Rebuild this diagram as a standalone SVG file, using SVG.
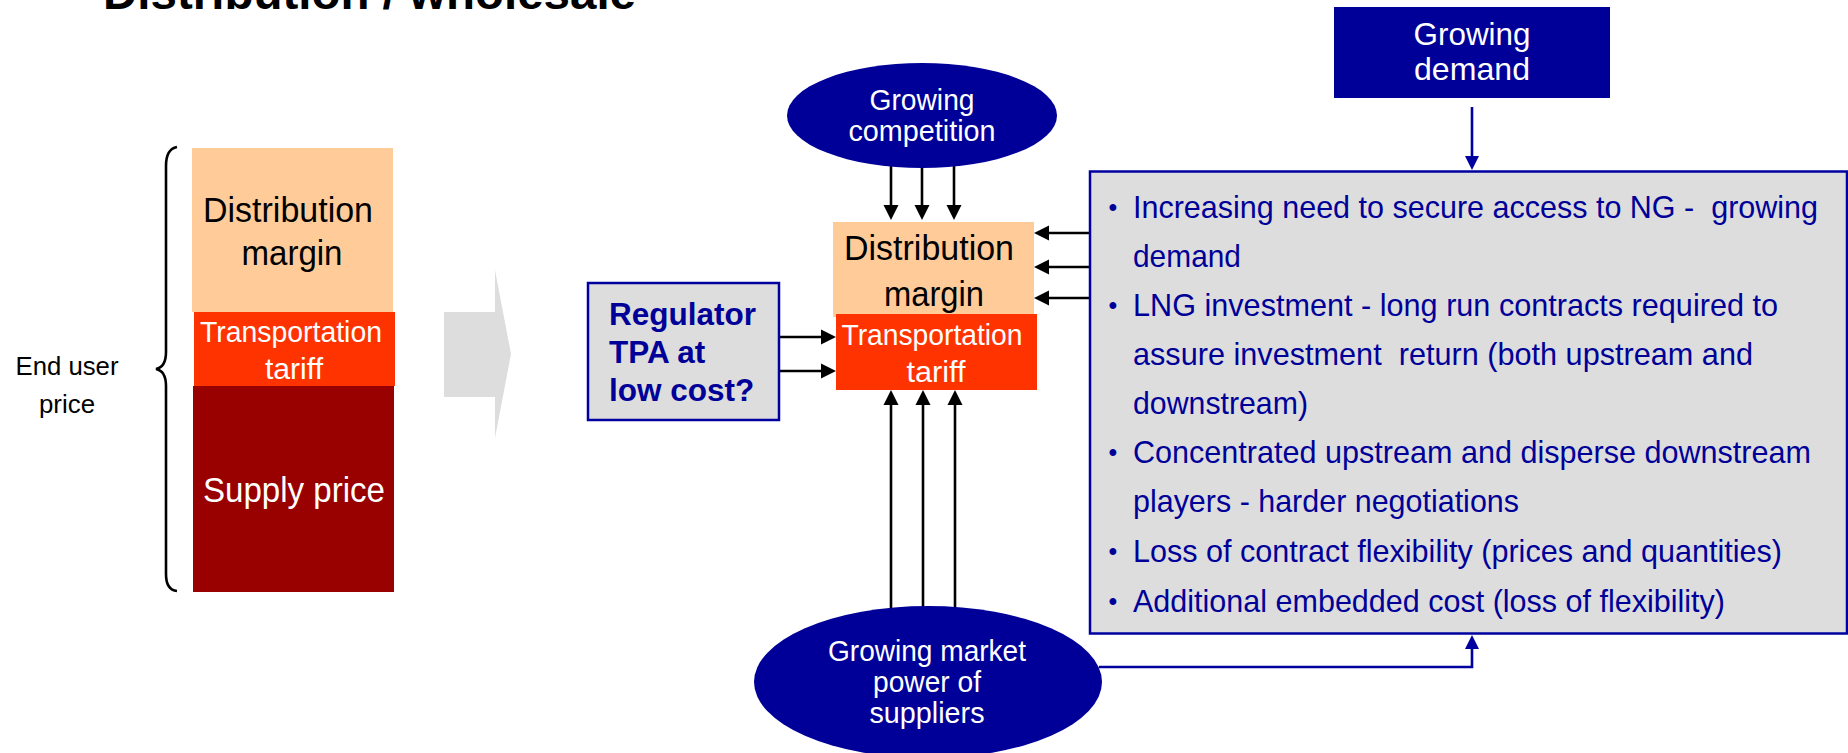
<svg xmlns="http://www.w3.org/2000/svg" width="1848" height="753" viewBox="0 0 1848 753">
  <style>
    text { font-family: "Liberation Sans", Arial, sans-serif; }
    .title { font-size: 47px; font-weight: bold; fill: #000; }
    .lbl { font-size: 26px; fill: #000; text-anchor: middle; }
    .big { font-size: 35px; text-anchor: middle; }
    .mid { font-size: 30px; text-anchor: middle; }
    .dem { font-size: 32px; text-anchor: middle; fill: #fff; }
    .w { fill: #fff; }
    .k { fill: #000; }
    .reg { font-size: 31.5px; font-weight: bold; fill: #000099; }
    .body { font-size: 31.5px; fill: #000099; }
    .blt { font-size: 25px; fill: #000099; text-anchor: middle; }
    .wire { stroke: #000; stroke-width: 2.6; fill: none; }
    .bwire { stroke: #0000A0; stroke-width: 2.6; fill: none; }
    .panel { fill: #DDDDDD; stroke: #0000A0; stroke-width: 2.5; }
    .navy { fill: #000099; }
  </style>
  <defs>
    <marker id="headK" markerUnits="userSpaceOnUse" markerWidth="24" markerHeight="16" refX="7" refY="8" orient="auto" viewBox="0 0 24 16">
      <path d="M0,0.5 L15,8 L0,15.5 z" fill="#000"/>
    </marker>
    <marker id="headB" markerUnits="userSpaceOnUse" markerWidth="24" markerHeight="16" refX="7" refY="8" orient="auto" viewBox="0 0 24 16">
      <path d="M0,1 L14,8 L0,15 z" fill="#0000A0"/>
    </marker>
  </defs>

  <!-- heading, clipped by the top edge -->
  <text class="title" x="103" y="9" textLength="533" lengthAdjust="spacingAndGlyphs">Distribution / wholesale</text>

  <!-- price stack on the left -->
  <g id="price-stack">
    <rect x="192" y="148" width="201" height="164" fill="#FFCC99"/>
    <rect x="194" y="312" width="201" height="74" fill="#FF3300"/>
    <rect x="193" y="386" width="201" height="206" fill="#990000"/>
    <text class="big k" x="288" y="222" textLength="170" lengthAdjust="spacingAndGlyphs">Distribution</text>
    <text class="big k" x="292" y="265" textLength="101" lengthAdjust="spacingAndGlyphs">margin</text>
    <text class="mid w" x="291" y="342" textLength="182" lengthAdjust="spacingAndGlyphs">Transportation</text>
    <text class="mid w" x="294" y="379" textLength="58" lengthAdjust="spacingAndGlyphs">tariff</text>
    <text class="big w" x="294" y="502" textLength="182" lengthAdjust="spacingAndGlyphs">Supply price</text>
  </g>

  <g id="end-user-brace">
    <path d="M177,147 Q166,149 166,166 L166,352 Q166,367 156,369 Q166,371 166,386 L166,574 Q166,590 177,591" class="wire" stroke-width="2"/>
    <text class="lbl" x="67" y="375" textLength="103" lengthAdjust="spacingAndGlyphs">End user</text>
    <text class="lbl" x="67" y="413" textLength="56" lengthAdjust="spacingAndGlyphs">price</text>
  </g>

  <!-- wide grey arrow between the two halves -->
  <g id="transition-arrow">
    <polygon points="444,312 495,312 495,270 511,354 495,438 495,397 444,397" fill="#DDDDDD"/>
  </g>

  <!-- connectors -->
  <g id="connectors">
    <line class="wire" x1="891" y1="165" x2="891" y2="212" marker-end="url(#headK)"/>
    <line class="wire" x1="922" y1="165" x2="922" y2="212" marker-end="url(#headK)"/>
    <line class="wire" x1="954" y1="165" x2="954" y2="212" marker-end="url(#headK)"/>

    <line class="wire" x1="891" y1="612" x2="891" y2="398" marker-end="url(#headK)"/>
    <line class="wire" x1="923" y1="612" x2="923" y2="398" marker-end="url(#headK)"/>
    <line class="wire" x1="955" y1="612" x2="955" y2="398" marker-end="url(#headK)"/>

    <line class="wire" x1="1090" y1="233" x2="1042" y2="233" marker-end="url(#headK)"/>
    <line class="wire" x1="1090" y1="267" x2="1042" y2="267" marker-end="url(#headK)"/>
    <line class="wire" x1="1090" y1="298" x2="1042" y2="298" marker-end="url(#headK)"/>

    <line class="wire" x1="779" y1="337" x2="828" y2="337" marker-end="url(#headK)"/>
    <line class="wire" x1="779" y1="371" x2="828" y2="371" marker-end="url(#headK)"/>

    <line class="bwire" x1="1472" y1="107" x2="1472" y2="163" stroke-width="2" marker-end="url(#headB)"/>
    <polyline class="bwire" points="1099,667 1472,667 1472,642" stroke-width="3" marker-end="url(#headB)"/>
  </g>

  <g id="growing-competition">
    <ellipse cx="922" cy="115.5" rx="135" ry="52.5" class="navy"/>
    <text class="mid w" x="922" y="110" textLength="105" lengthAdjust="spacingAndGlyphs">Growing</text>
    <text class="mid w" x="922" y="141" textLength="147" lengthAdjust="spacingAndGlyphs">competition</text>
  </g>

  <g id="distribution-stack">
    <rect x="833" y="222" width="201" height="95" fill="#FFCC99"/>
    <rect x="836" y="314" width="201" height="76" fill="#FF3300"/>
    <text class="big k" x="929" y="260" textLength="170" lengthAdjust="spacingAndGlyphs">Distribution</text>
    <text class="big k" x="934" y="306" textLength="100" lengthAdjust="spacingAndGlyphs">margin</text>
    <text class="mid w" x="932" y="345" textLength="181" lengthAdjust="spacingAndGlyphs">Transportation</text>
    <text class="mid w" x="936" y="382" textLength="59" lengthAdjust="spacingAndGlyphs">tariff</text>
  </g>

  <g id="regulator">
    <rect x="588" y="283" width="191" height="137" class="panel"/>
    <text class="reg" x="609" y="325">Regulator</text>
    <text class="reg" x="609" y="363">TPA at</text>
    <text class="reg" x="609" y="401">low cost?</text>
  </g>

  <g id="growing-demand">
    <rect x="1334" y="7" width="276" height="91" class="navy"/>
    <text class="dem" x="1472" y="45" textLength="117" lengthAdjust="spacingAndGlyphs">Growing</text>
    <text class="dem" x="1472" y="80" textLength="116" lengthAdjust="spacingAndGlyphs">demand</text>
  </g>

  <g id="market-power">
    <ellipse cx="928" cy="682" rx="174" ry="76" class="navy"/>
    <text class="mid w" x="927" y="661" textLength="198" lengthAdjust="spacingAndGlyphs">Growing market</text>
    <text class="mid w" x="927" y="692" textLength="108" lengthAdjust="spacingAndGlyphs">power of</text>
    <text class="mid w" x="927" y="723" textLength="115" lengthAdjust="spacingAndGlyphs">suppliers</text>
  </g>

  <g id="issues">
    <rect x="1090" y="171.5" width="757" height="462" class="panel"/>
    <text class="blt" x="1113" y="216">•</text>
    <text class="body" x="1133" y="218" textLength="685" lengthAdjust="spacingAndGlyphs" xml:space="preserve">Increasing need to secure access to NG -  growing</text>
    <text class="body" x="1133" y="267" textLength="108" lengthAdjust="spacingAndGlyphs">demand</text>
    <text class="blt" x="1113" y="314">•</text>
    <text class="body" x="1133" y="316" textLength="645" lengthAdjust="spacingAndGlyphs">LNG investment - long run contracts required to</text>
    <text class="body" x="1133" y="365" textLength="620" lengthAdjust="spacingAndGlyphs" xml:space="preserve">assure investment  return (both upstream and</text>
    <text class="body" x="1133" y="413.5" textLength="175" lengthAdjust="spacingAndGlyphs">downstream)</text>
    <text class="blt" x="1113" y="461">•</text>
    <text class="body" x="1133" y="463" textLength="678" lengthAdjust="spacingAndGlyphs">Concentrated upstream and disperse downstream</text>
    <text class="body" x="1133" y="512" textLength="386" lengthAdjust="spacingAndGlyphs">players - harder negotiations</text>
    <text class="blt" x="1113" y="560">•</text>
    <text class="body" x="1133" y="562" textLength="649" lengthAdjust="spacingAndGlyphs">Loss of contract flexibility (prices and quantities)</text>
    <text class="blt" x="1113" y="610">•</text>
    <text class="body" x="1133" y="612" textLength="592" lengthAdjust="spacingAndGlyphs">Additional embedded cost (loss of flexibility)</text>
  </g>
</svg>
